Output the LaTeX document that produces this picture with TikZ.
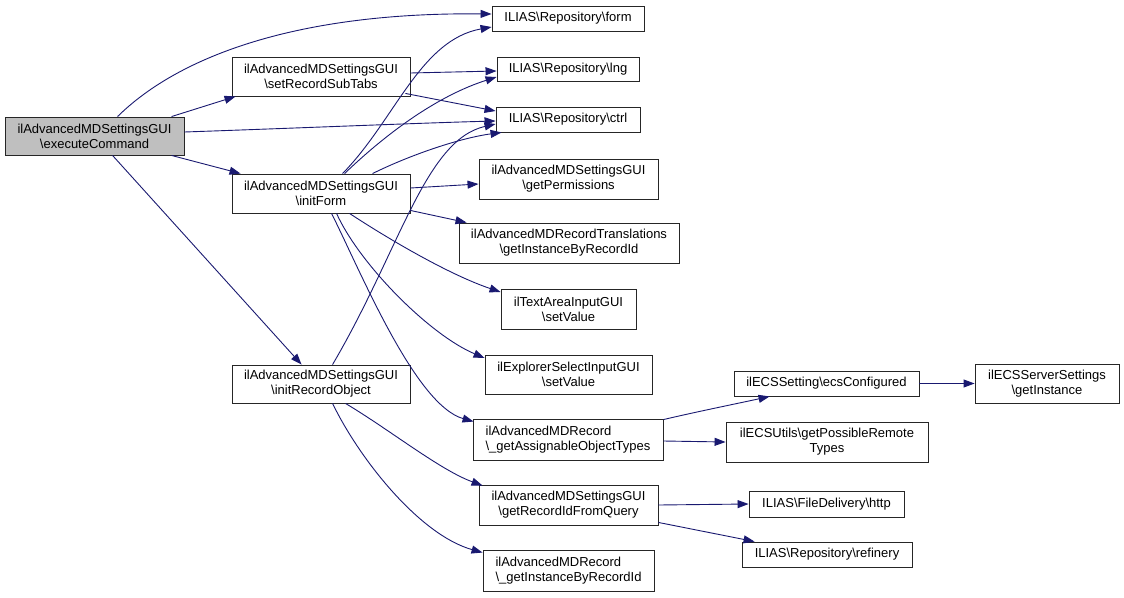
\documentclass[tikz,border=0pt]{standalone}
\usepackage{fontspec}
\setmainfont{Liberation Sans}
\usetikzlibrary{arrows.meta,calc}
\definecolor{edgeblue}{HTML}{191970}
\definecolor{nodegray}{HTML}{BFBFBF}
\begin{document}
\begin{tikzpicture}[x=1pt,y=-1pt,
  fn/.style={draw=black!85,line width=0.9pt,inner sep=0pt,align=center,
    font=\fontsize{13}{15}\selectfont,fill=white},
  fnl/.style={fn,align=left},
  call/.style={draw=edgeblue,line width=0.9pt,
    -{Triangle[length=11pt,width=8pt,fill=edgeblue]}}]
\useasboundingbox (0,0) rectangle (1124,597);
% nodes
\node[fn,fill=nodegray,minimum width=179pt,minimum height=38pt] (exec) at (94.5,136) {ilAdvancedMDSettingsGUI\\\textbackslash executeCommand};
\node[fn,minimum width=178pt,minimum height=39pt] (setRST) at (321,76.5) {ilAdvancedMDSettingsGUI\\\textbackslash setRecordSubTabs};
\node[fn,minimum width=178pt,minimum height=39pt] (initForm) at (321,193.5) {ilAdvancedMDSettingsGUI\\\textbackslash initForm};
\node[fn,minimum width=178pt,minimum height=38pt] (initRO) at (321,384) {ilAdvancedMDSettingsGUI\\\textbackslash initRecordObject};
\node[fn,minimum width=152pt,minimum height=25pt] (form) at (568,18.5) {ILIAS\textbackslash Repository\textbackslash form};
\node[fn,minimum width=142pt,minimum height=24pt] (lng) at (568,69) {ILIAS\textbackslash Repository\textbackslash lng};
\node[fn,minimum width=144pt,minimum height=25pt] (ctrl) at (568,119.5) {ILIAS\textbackslash Repository\textbackslash ctrl};
\node[fn,minimum width=179pt,minimum height=40pt] (getPerm) at (568.5,179) {ilAdvancedMDSettingsGUI\\\textbackslash getPermissions};
\node[fn,minimum width=220pt,minimum height=40pt] (trans) at (569,243) {ilAdvancedMDRecordTranslations\\\textbackslash getInstanceByRecordId};
\node[fn,minimum width=135pt,minimum height=40pt] (textArea) at (568.5,309) {ilTextAreaInputGUI\\\textbackslash setValue};
\node[fn,minimum width=167pt,minimum height=39pt] (explorer) at (568.5,374.5) {ilExplorerSelectInputGUI\\\textbackslash setValue};
\node[fnl,minimum width=190pt,minimum height=41pt] (assign) at (568,439.5) {ilAdvancedMDRecord\\\textbackslash \_getAssignableObjectTypes};
\node[fn,minimum width=179pt,minimum height=40pt] (getRIFQ) at (568.5,505) {ilAdvancedMDSettingsGUI\\\textbackslash getRecordIdFromQuery};
\node[fnl,minimum width=171pt,minimum height=41pt] (getIBRI) at (568.5,570.5) {ilAdvancedMDRecord\\\textbackslash \_getInstanceByRecordId};
\node[fn,minimum width=185pt,minimum height=25pt] (ecsConf) at (826.5,383.5) {ilECSSetting\textbackslash ecsConfigured};
\node[fn,minimum width=202pt,minimum height=40pt] (ecsUtils) at (827,442) {ilECSUtils\textbackslash getPossibleRemote\\Types};
\node[fn,minimum width=155pt,minimum height=26pt] (http) at (826.5,504) {ILIAS\textbackslash FileDelivery\textbackslash http};
\node[fn,minimum width=170pt,minimum height=25pt] (refinery) at (827,554.5) {ILIAS\textbackslash Repository\textbackslash refinery};
\node[fn,minimum width=144pt,minimum height=39pt] (server) at (1047,383.5) {ilECSServerSettings\\\textbackslash getInstance};
% edges from executeCommand
\draw[call] ($(exec.north west)+(113,0)$) .. controls (180,55) and (300,12) .. ($(form.west)+(0,-4.5)$);
\draw[call] ($(exec.north west)+(167,0)$) -- ($(setRST.south west)+(4,0)$);
\draw[call] ($(exec.east)+(0,-4)$) .. controls (300,128) and (420,123) .. ($(ctrl.west)+(0,1.5)$);
\draw[call] ($(exec.south west)+(167,0)$) -- ($(initForm.north west)+(9,0)$);
\draw[call] ($(exec.south west)+(108,0)$) -- ($(initRO.north west)+(70,0)$);
% setRecordSubTabs
\draw[call] ($(setRST.east)+(0,-3.5)$) -- ($(lng.west)+(0,2)$);
\draw[call] ($(setRST.south east)+(-5,-3)$) -- ($(ctrl.west)+(0,-8.5)$);
% initForm
\draw[call] ($(initForm.north west)+(111,0)$) .. controls (395,120) and (420,40) .. ($(form.west)+(0,8.5)$);
\draw[call] ($(initForm.north west)+(113,0)$) .. controls (390,130) and (440,95) .. ($(lng.west)+(0,8)$);
\draw[call] ($(initForm.north west)+(141,0)$) .. controls (410,155) and (460,138) .. ($(ctrl.south west)+(6,0)$);
\draw[call] ($(initForm.east)+(0,-5.5)$) -- ($(getPerm.west)+(0,5)$);
\draw[call] ($(initForm.south east)+(0,-3)$) -- ($(trans.north west)+(8,0)$);
\draw[call] ($(initForm.south west)+(118,0)$) .. controls (390,240) and (450,275) .. ($(textArea.west)+(0,-17)$);
\draw[call] ($(initForm.south west)+(105,0)$) .. controls (360,265) and (430,335) .. ($(explorer.west)+(0,-16.5)$);
\draw[call] ($(initForm.south west)+(100,0)$) .. controls (360,270) and (415,405) .. ($(assign.north west)+(1,3)$);
% initRecordObject
\draw[call] ($(initRO.north west)+(101,0)$) .. controls (400,250) and (425,140) .. ($(ctrl.west)+(0,4.5)$);
\draw[call] ($(initRO.south west)+(114,0)$) .. controls (390,430) and (440,470) .. ($(getRIFQ.north west)+(4,1)$);
\draw[call] ($(initRO.south west)+(101,0)$) .. controls (360,460) and (420,535) .. ($(getIBRI.north west)+(0,3)$);
% right part
\draw[call] ($(assign.north east)+(0,1)$) .. controls (700,411) and (740,403) .. ($(ecsConf.south west)+(36,0)$);
\draw[call] ($(assign.east)+(0,1.5)$) -- (ecsUtils.west);
\draw[call] (ecsConf.east) -- (server.west);
\draw[call] (getRIFQ.east) -- (http.west);
\draw[call] ($(getRIFQ.south east)+(0,-3)$) -- ($(refinery.north west)+(13,0)$);
\end{tikzpicture}
\end{document}
